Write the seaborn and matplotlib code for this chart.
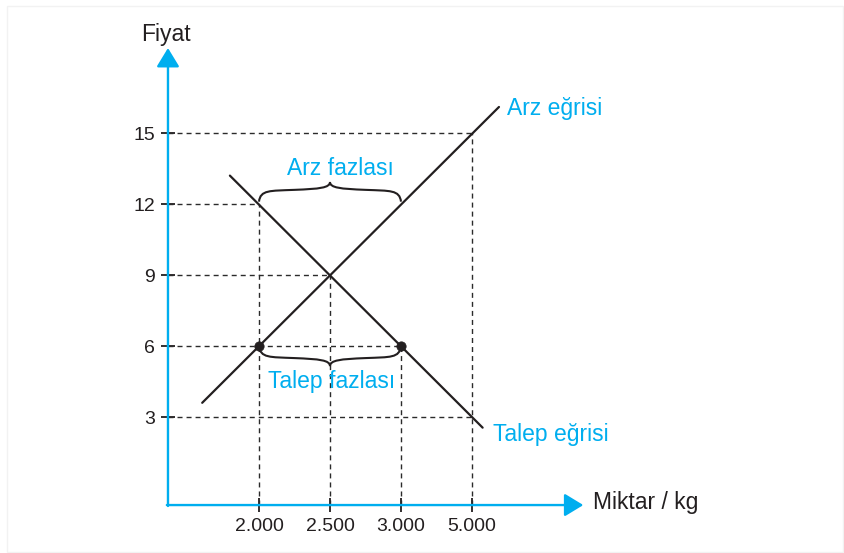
import matplotlib.pyplot as plt
import seaborn as sns
from matplotlib.path import Path
from matplotlib.patches import PathPatch, Rectangle

# --- Data ---
qty_ticks = [2000, 2500, 3000, 3500]
qty_labels = ['2.000', '2.500', '3.000', '5.000']
price_ticks = [3, 6, 9, 12, 15]

# straight supply / demand lines (end points)
supply_q = [1600, 3690]
supply_p = [3.6, 16.1]
demand_q = [1795, 3575]
demand_p = [13.2, 2.55]

# dashed guides: horizontal ones run from the price axis to these quantities,
# vertical ones from the quantity axis up to these prices
h_guide_end_q = [3500, 3000, 2500, 2000, 3500]
v_guide_top_p = [12, 9, 6, 15]

# shortage points at price 6
dot_q = [2000, 3000]
dot_p = [6, 6]

# --- Style ---
BLUE = '#00aeef'
DARK = '#231f20'
ORIGIN_Q, ORIGIN_P = 1359, -0.72
Q_TIP, P_TIP = 4284, 18.59

sns.set_theme(style='white')
plt.rcParams['font.family'] = ['Liberation Sans', 'DejaVu Sans']

fig = plt.figure(figsize=(8.45, 5.53), dpi=100)
ax = fig.add_axes([0, 0, 1, 1])
ax.set_xlim(176, 6127)
ax.set_ylim(-2.746, 20.62)

# faint frame around the picture
fig.patches.append(Rectangle((0.008, 0.002), 0.99, 0.988, transform=fig.transFigure,
                             fill=False, edgecolor='#f2f2f2', lw=1.0))

# dashed guide lines
dash = dict(color='#2b2b2b', lw=1.0, linestyle=(0, (3.6, 2.9)), zorder=1)
for p, q in zip(price_ticks, h_guide_end_q):
    ax.plot([ORIGIN_Q, q], [p, p], **dash)
for q, p in zip(qty_ticks, v_guide_top_p):
    ax.plot([q, q], [ORIGIN_P, p], **dash)

# supply and demand curves
sns.lineplot(x=supply_q, y=supply_p, ax=ax, color=DARK, lw=1.6, zorder=3)
sns.lineplot(x=demand_q, y=demand_p, ax=ax, color=DARK, lw=1.6, zorder=3)
sns.scatterplot(x=dot_q, y=dot_p, ax=ax, color=DARK, s=45, edgecolor=DARK,
                zorder=4, legend=False)


def brace(x0, x1, y, h):
    xm = (x0 + x1) / 2
    L = xm - x0
    verts = [(x0, y), (x0 + 0.02 * L, y + 0.6 * h), (x0 + 0.15 * L, y + 0.55 * h),
             (x0 + 0.5 * L, y + 0.6 * h), (xm - 0.15 * L, y + 0.65 * h),
             (xm, y + 0.7 * h), (xm, y + h),
             (xm, y + 0.7 * h), (xm + 0.15 * L, y + 0.65 * h),
             (xm + 0.5 * L, y + 0.6 * h), (x1 - 0.15 * L, y + 0.55 * h),
             (x1 - 0.02 * L, y + 0.6 * h), (x1, y)]
    codes = [Path.MOVETO] + [Path.CURVE4] * 12
    ax.add_patch(PathPatch(Path(verts, codes), fill=False, edgecolor=DARK,
                           lw=1.5, zorder=3))


brace(2000, 3000, 12.1, 0.83)
brace(2000, 3000, 6.0, -0.85)

# axes with arrow heads
arrow = dict(arrowstyle='-|>,head_length=1.15,head_width=0.7', mutation_scale=10,
             color=BLUE, lw=1.7, shrinkA=0, shrinkB=0)
ax.annotate('', xy=(Q_TIP, ORIGIN_P), xytext=(ORIGIN_Q - 8, ORIGIN_P), arrowprops=arrow)
ax.annotate('', xy=(ORIGIN_Q, P_TIP), xytext=(ORIGIN_Q, ORIGIN_P - 0.04), arrowprops=arrow)

# ticks sit on the (hidden) spines moved to the origin
for side in ['top', 'right', 'left', 'bottom']:
    ax.spines[side].set_visible(False)
ax.spines['left'].set_position(('data', ORIGIN_Q))
ax.spines['bottom'].set_position(('data', ORIGIN_P))
ax.set_xticks(qty_ticks)
ax.set_xticklabels(qty_labels)
ax.set_yticks(price_ticks)
ax.set_yticklabels([str(p) for p in price_ticks])
ax.tick_params(axis='both', direction='inout', length=10, width=1.3, color=DARK,
               labelsize=14, labelcolor=DARK)
ax.tick_params(axis='x', pad=4.5, bottom=True)
ax.tick_params(axis='y', pad=4.5, left=True)
ax.grid(False)

# labels
ax.text(ORIGIN_Q - 15, 18.9, 'Fiyat', fontsize=16.5, color=DARK, ha='center', va='baseline')
ax.text(4352, -0.89, 'Miktar / kg', fontsize=16.5, color=DARK, ha='left', va='baseline')
ax.text(3744, 15.76, 'Arz eğrisi', fontsize=16.5, color=BLUE, ha='left', va='baseline')
ax.text(3648, 2.0, 'Talep eğrisi', fontsize=16.5, color=BLUE, ha='left', va='baseline')
ax.text(2570, 13.22, 'Arz fazlası', fontsize=16.5, color=BLUE, ha='center', va='baseline')
ax.text(2514, 4.225, 'Talep fazlası', fontsize=16.5, color=BLUE, ha='center', va='baseline')

fig.savefig('out.png', dpi=100)
